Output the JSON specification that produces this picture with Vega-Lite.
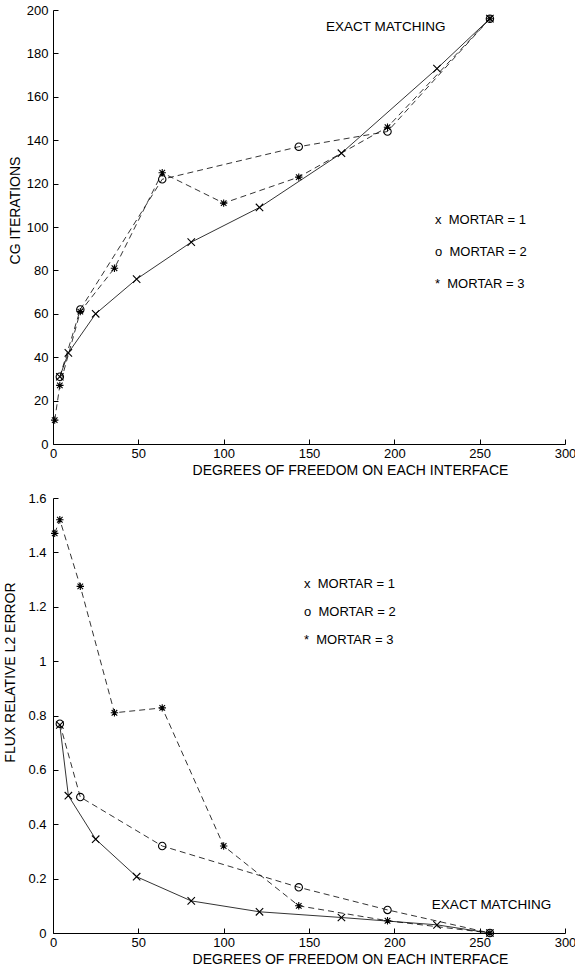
{
  "$schema": "https://vega.github.io/schema/vega-lite/v6.json",
  "background": "white",
  "padding": {"left": 3, "top": 4, "right": 0, "bottom": 0},
  "spacing": 15,
  "resolve": {"scale": {"shape": "independent"}, "legend": {"shape": "independent"}},
  "config": {
    "view": {"stroke": null},
    "font": "Liberation Sans",
    "axis": {
      "grid": false,
      "domainColor": "black",
      "tickColor": "black",
      "labelColor": "black",
      "titleColor": "black",
      "labelFont": "Liberation Sans",
      "titleFont": "Liberation Sans",
      "labelFontSize": 13,
      "titleFontSize": 14,
      "titleFontWeight": "normal",
      "tickSize": -5,
      "domainWidth": 1,
      "tickWidth": 1,
      "labelFlush": false,
      "labelOverlap": false
    },
    "legend": {
      "labelFont": "Liberation Sans",
      "labelFontSize": 13,
      "labelColor": "black"
    }
  },
  "datasets": {
    "cg": [
      {"mortar": 1, "dof": 4, "iterations": 31},
      {"mortar": 1, "dof": 9, "iterations": 42},
      {"mortar": 1, "dof": 25, "iterations": 60},
      {"mortar": 1, "dof": 49, "iterations": 76},
      {"mortar": 1, "dof": 81, "iterations": 93},
      {"mortar": 1, "dof": 121, "iterations": 109},
      {"mortar": 1, "dof": 169, "iterations": 134},
      {"mortar": 1, "dof": 225, "iterations": 173},
      {"mortar": 1, "dof": 256, "iterations": 196},
      {"mortar": 2, "dof": 4, "iterations": 31},
      {"mortar": 2, "dof": 16, "iterations": 62},
      {"mortar": 2, "dof": 64, "iterations": 122},
      {"mortar": 2, "dof": 144, "iterations": 137},
      {"mortar": 2, "dof": 196, "iterations": 144},
      {"mortar": 2, "dof": 256, "iterations": 196},
      {"mortar": 3, "dof": 1, "iterations": 11},
      {"mortar": 3, "dof": 4, "iterations": 27},
      {"mortar": 3, "dof": 16, "iterations": 61},
      {"mortar": 3, "dof": 36, "iterations": 81},
      {"mortar": 3, "dof": 64, "iterations": 125},
      {"mortar": 3, "dof": 100, "iterations": 111},
      {"mortar": 3, "dof": 144, "iterations": 123},
      {"mortar": 3, "dof": 196, "iterations": 146},
      {"mortar": 3, "dof": 256, "iterations": 196}
    ],
    "flux": [
      {"mortar": 1, "dof": 4, "error": 0.765},
      {"mortar": 1, "dof": 9, "error": 0.505},
      {"mortar": 1, "dof": 25, "error": 0.345},
      {"mortar": 1, "dof": 49, "error": 0.207},
      {"mortar": 1, "dof": 81, "error": 0.118},
      {"mortar": 1, "dof": 121, "error": 0.078},
      {"mortar": 1, "dof": 169, "error": 0.057},
      {"mortar": 1, "dof": 225, "error": 0.03},
      {"mortar": 1, "dof": 256, "error": 0.0},
      {"mortar": 2, "dof": 4, "error": 0.77},
      {"mortar": 2, "dof": 16, "error": 0.5},
      {"mortar": 2, "dof": 64, "error": 0.32},
      {"mortar": 2, "dof": 144, "error": 0.168},
      {"mortar": 2, "dof": 196, "error": 0.085},
      {"mortar": 2, "dof": 256, "error": 0.0},
      {"mortar": 3, "dof": 1, "error": 1.47},
      {"mortar": 3, "dof": 4, "error": 1.52},
      {"mortar": 3, "dof": 16, "error": 1.275},
      {"mortar": 3, "dof": 36, "error": 0.81},
      {"mortar": 3, "dof": 64, "error": 0.828},
      {"mortar": 3, "dof": 100, "error": 0.32},
      {"mortar": 3, "dof": 144, "error": 0.1},
      {"mortar": 3, "dof": 196, "error": 0.045},
      {"mortar": 3, "dof": 256, "error": 0.0}
    ]
  },
  "vconcat": [
    {
      "width": 512,
      "height": 434,
      "data": {"name": "cg"},
      "layer": [
        {
          "transform": [{"filter": "datum.mortar == 1"}],
          "mark": {"type": "line", "color": "black", "strokeWidth": 0.8},
          "encoding": {
            "x": {"field": "dof", "type": "quantitative", "scale": {"domain": [0, 300], "nice": false},
                  "axis": {"values": [0, 50, 100, 150, 200, 250, 300], "title": "DEGREES OF FREEDOM ON EACH INTERFACE", "titleX": 297, "labelPadding": 8, "titlePadding": 3}},
            "y": {"field": "iterations", "type": "quantitative", "scale": {"domain": [0, 200], "nice": false},
                  "axis": {"values": [0, 20, 40, 60, 80, 100, 120, 140, 160, 180, 200], "title": "CG ITERATIONS", "titleY": 200, "labelPadding": 10, "titlePadding": 4}}
          }
        },
        {
          "transform": [{"filter": "datum.mortar != 1"}],
          "mark": {"type": "line", "color": "black", "strokeWidth": 0.8, "strokeDash": [6, 4]},
          "encoding": {
            "x": {"field": "dof", "type": "quantitative"},
            "y": {"field": "iterations", "type": "quantitative"},
            "detail": {"field": "mortar", "type": "nominal"}
          }
        },
        {
          "mark": {"type": "point", "filled": false, "color": "black", "strokeWidth": 1.1, "size": 55, "opacity": 1},
          "encoding": {
            "x": {"field": "dof", "type": "quantitative"},
            "y": {"field": "iterations", "type": "quantitative"},
            "shape": {"field": "mortar", "type": "nominal",
                      "scale": {"domain": [1, 2, 3], "range": ["M-1,-1L1,1M-1,1L1,-1", "circle", "M-1,0L1,0M0,-1L0,1M-0.75,-0.75L0.75,0.75M-0.75,0.75L0.75,-0.75"]},
                      "legend": {"title": null, "orient": "none", "legendX": 369, "legendY": 203, "symbolOpacity": 0, "symbolSize": 1, "symbolStrokeWidth": 0, "labelOffset": 0, "rowPadding": 18,
                                 "labelExpr": "(datum.label == '1' ? 'x' : datum.label == '2' ? 'o' : '*') + '\u00a0\u00a0MORTAR = ' + datum.label"}}
          }
        },
        {
          "data": {"values": [{"note": "EXACT MATCHING", "dof": 195, "iterations": 192}]},
          "mark": {"type": "text", "font": "Liberation Sans", "fontSize": 13.5, "color": "black", "align": "center", "baseline": "middle"},
          "encoding": {
            "x": {"field": "dof", "type": "quantitative"},
            "y": {"field": "iterations", "type": "quantitative"},
            "text": {"field": "note"}
          }
        }
      ]
    },
    {
      "width": 512,
      "height": 435,
      "data": {"name": "flux"},
      "layer": [
        {
          "transform": [{"filter": "datum.mortar == 1"}],
          "mark": {"type": "line", "color": "black", "strokeWidth": 0.8},
          "encoding": {
            "x": {"field": "dof", "type": "quantitative", "scale": {"domain": [0, 300], "nice": false},
                  "axis": {"values": [0, 50, 100, 150, 200, 250, 300], "title": "DEGREES OF FREEDOM ON EACH INTERFACE", "titleX": 297, "labelPadding": 8, "titlePadding": 3}},
            "y": {"field": "error", "type": "quantitative", "scale": {"domain": [0, 1.6], "nice": false},
                  "axis": {"values": [0, 0.2, 0.4, 0.6, 0.8, 1, 1.2, 1.4, 1.6], "format": "~g", "title": "FLUX RELATIVE L2 ERROR", "titleY": 174, "labelPadding": 12, "titlePadding": 10}}
          }
        },
        {
          "transform": [{"filter": "datum.mortar != 1"}],
          "mark": {"type": "line", "color": "black", "strokeWidth": 0.8, "strokeDash": [6, 4]},
          "encoding": {
            "x": {"field": "dof", "type": "quantitative"},
            "y": {"field": "error", "type": "quantitative"},
            "detail": {"field": "mortar", "type": "nominal"}
          }
        },
        {
          "mark": {"type": "point", "filled": false, "color": "black", "strokeWidth": 1.1, "size": 55, "opacity": 1},
          "encoding": {
            "x": {"field": "dof", "type": "quantitative"},
            "y": {"field": "error", "type": "quantitative"},
            "shape": {"field": "mortar", "type": "nominal",
                      "scale": {"domain": [1, 2, 3], "range": ["M-1,-1L1,1M-1,1L1,-1", "circle", "M-1,0L1,0M0,-1L0,1M-0.75,-0.75L0.75,0.75M-0.75,0.75L0.75,-0.75"]},
                      "legend": {"title": null, "orient": "none", "legendX": 238, "legendY": 79, "symbolOpacity": 0, "symbolSize": 1, "symbolStrokeWidth": 0, "labelOffset": 0, "rowPadding": 14,
                                 "labelExpr": "(datum.label == '1' ? 'x' : datum.label == '2' ? 'o' : '*') + '\u00a0\u00a0MORTAR = ' + datum.label"}}
          }
        },
        {
          "data": {"values": [{"note": "EXACT MATCHING", "dof": 257, "error": 0.103}]},
          "mark": {"type": "text", "font": "Liberation Sans", "fontSize": 13.5, "color": "black", "align": "center", "baseline": "middle"},
          "encoding": {
            "x": {"field": "dof", "type": "quantitative"},
            "y": {"field": "error", "type": "quantitative"},
            "text": {"field": "note"}
          }
        }
      ]
    }
  ]
}
